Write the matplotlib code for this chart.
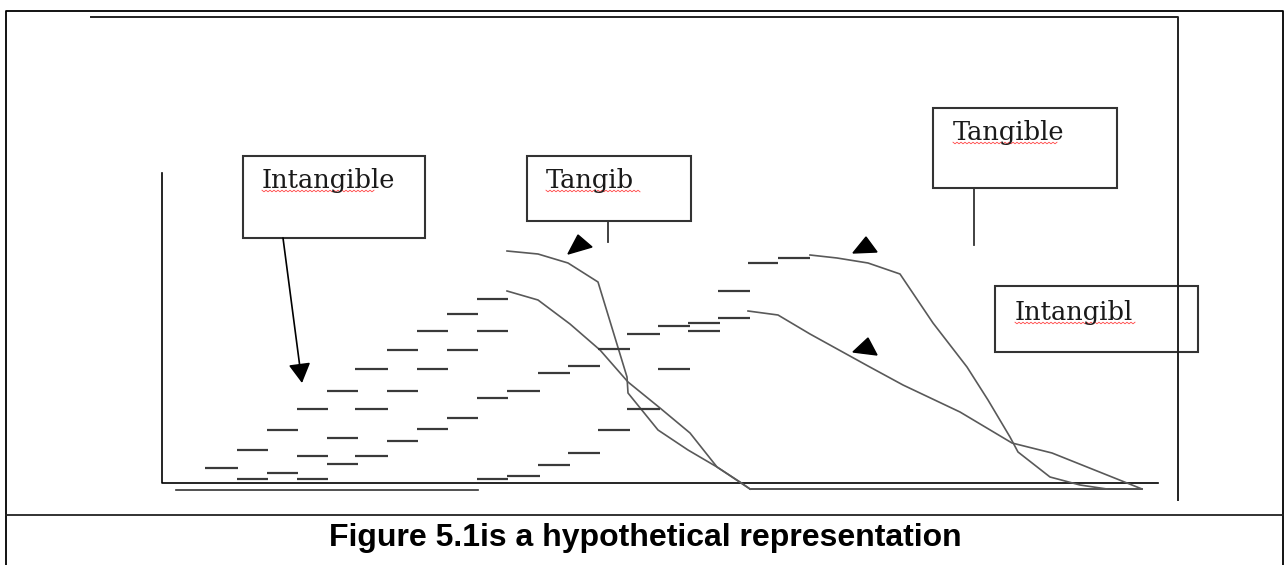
import numpy as np
import matplotlib.pyplot as plt
from matplotlib.patches import Rectangle, Polygon

# page size in pixels, everything below is in these units (y grows downward)
W, H = 1287, 565

# --- curves ---------------------------------------------------------------
# first pair (left), both fall to the base line near x=745
tang1_x = [507, 538, 568, 598, 627, 628, 658, 688, 717, 750]
tang1_y = [251, 254, 263, 282, 377, 393, 430, 450, 467, 489]
intang1_x = [507, 538, 570, 600, 628, 660, 690, 717, 740, 750]
intang1_y = [291, 300, 324, 350, 382, 408, 433, 467, 482, 489]

# second pair (right)
tang2_x = [810, 837, 868, 900, 933, 967, 988, 1010, 1018, 1050, 1080, 1107]
tang2_y = [255, 258, 263, 274, 323, 367, 400, 437, 452, 477, 485, 489]
intang2_x = [748, 778, 810, 868, 903, 960, 1012, 1052, 1142]
intang2_y = [311, 315, 334, 366, 385, 412, 443, 453, 489]

# --- short dashes (x start, x end, y) ---------------------------------------
dash_x0 = [417, 387, 355, 417, 327, 387, 297, 355, 267, 417, 327, 387, 237, 297,
           355, 327, 205, 267, 237, 297,
           477, 447, 477, 447, 447, 477, 477,
           507, 538, 568, 598, 627, 658, 688, 688, 718, 718, 748, 778,
           658, 627, 598, 568, 538, 507]
dash_x1 = [448, 418, 388, 448, 358, 418, 328, 388, 298, 448, 358, 418, 268, 328,
           388, 358, 238, 298, 268, 328,
           508, 478, 508, 478, 478, 508, 508,
           540, 570, 600, 630, 660, 690, 720, 720, 750, 750, 778, 810,
           690, 660, 630, 600, 570, 540]
dash_y = [331, 350, 369, 369, 391, 391, 409, 409, 430, 429, 438, 441, 450, 456,
          456, 464, 468, 473, 479, 479,
          299, 314, 331, 350, 418, 398, 479,
          391, 373, 366, 349, 334, 326, 323, 331, 318, 291, 263, 258,
          369, 409, 430, 453, 465, 476]

# --- label boxes: left, top, width, height, text, text x, text baseline -----
box_left = [243, 527, 933, 995]
box_top = [156, 156, 108, 286]
box_w = [182, 164, 184, 203]
box_h = [82, 65, 80, 66]
box_text = ['Intangible', 'Tangib', 'Tangible', 'Intangibl']
text_x = [262, 546, 953, 1015]
text_y = [188, 188, 140, 320]
squiggle_w = [113, 95, 105, 121]

# small filled triangles (arrow heads)
tri_x = [[568, 578, 592], [853, 866, 877], [853, 868, 877]]
tri_y = [[254, 235, 247], [253, 237, 252], [352, 338, 355]]

caption = 'Figure 5.1is a hypothetical representation'

fig = plt.figure(figsize=(W / 100, H / 100), dpi=100)
ax = fig.add_axes([0, 0, 1, 1])
ax.set_xlim(0, W)
ax.set_ylim(H, 0)
ax.axis('off')

# outer frame and caption divider
ax.plot([6, 6, 1283, 1283], [565, 11, 11, 565], color='black', lw=1.3)
ax.plot([6, 1283], [515, 515], color='#222222', lw=1.3)

# inner frame lines (top and right)
ax.plot([91, 1178, 1178], [17, 17, 500], color='#222222', lw=1.4)

# axes of the sketch
ax.plot([162, 162, 1158], [173, 483, 483], color='black', lw=1.2)
ax.plot([176, 478], [490, 490], color='#333333', lw=1.2)
ax.plot([750, 1142], [489, 489], color='#333333', lw=1.2)

# curves
curve_kw = dict(color='#595959', lw=1.2)
ax.plot(tang1_x, tang1_y, **curve_kw)
ax.plot(intang1_x, intang1_y, **curve_kw)
ax.plot(tang2_x, tang2_y, **curve_kw)
ax.plot(intang2_x, intang2_y, **curve_kw)

ax.hlines(dash_y, dash_x0, dash_x1, color='#3a3a3a', lw=1.6)

# boxes with their labels
for i in range(len(box_text)):
    ax.add_patch(Rectangle((box_left[i], box_top[i]), box_w[i], box_h[i],
                           fill=False, edgecolor='#333333', lw=1.5))
    ax.text(text_x[i], text_y[i], box_text[i], fontsize=18.5,
            family='DejaVu Serif', color='#1a1a1a', va='baseline', ha='left')
    # spell-check squiggle under the word
    sx = np.arange(text_x[i], text_x[i] + squiggle_w[i], 2.0)
    sy = text_y[i] + 3 + np.where(np.arange(len(sx)) % 2 == 0, -0.8, 0.8)
    ax.plot(sx, sy, color='#ff4444', lw=0.6)

# stub lines under two boxes
ax.plot([608, 608], [221, 242], color='#333333', lw=1.3)
ax.plot([974, 974], [188, 245], color='#333333', lw=1.3)

# arrow from the first box
ax.annotate('', xy=(302, 383), xytext=(283, 238),
            arrowprops=dict(arrowstyle='-|>,head_length=0.8,head_width=0.45',
                            mutation_scale=15, color='black', lw=1.2,
                            shrinkA=0, shrinkB=0))

for xs, ys in zip(tri_x, tri_y):
    ax.add_patch(Polygon(np.column_stack([xs, ys]), closed=True,
                         facecolor='black', edgecolor='black'))

ax.text(645, 546, caption, fontsize=23, fontweight='bold',
        family='Liberation Sans', ha='center', va='baseline')

fig.savefig('out.png', dpi=100)
